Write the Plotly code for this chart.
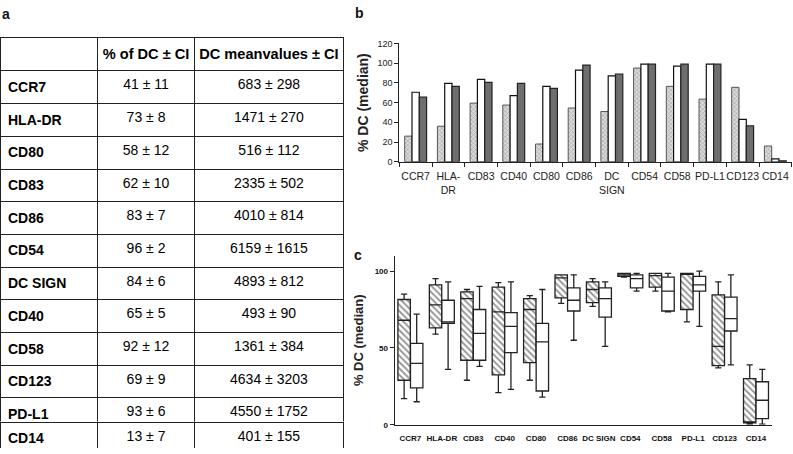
import plotly.graph_objects as go

W, H = 793, 454
FONT = "Liberation Sans, Arial, Helvetica, sans-serif"
NB = "\u00a0"

# ---------------- panel a: table data ----------------
table_markers = ["CCR7", "HLA-DR", "CD80", "CD83", "CD86", "CD54", "DC SIGN",
                 "CD40", "CD58", "CD123", "PD-L1", "CD14"]
pct_mean = [41, 73, 58, 62, 83, 96, 84, 65, 92, 69, 93, 13]
pct_ci = [11, 8, 12, 10, 7, 2, 6, 5, 12, 9, 6, 7]
mfi_mean = [683, 1471, 516, 2335, 4010, 6159, 4893, 493, 1361, 4634, 4550, 401]
mfi_ci = [298, 270, 112, 502, 814, 1615, 812, 90, 384, 3203, 1752, 155]
header_labels = ["", "% of DC \u00b1 CI", "DC meanvalues \u00b1 CI"]

# ---------------- panel b: bar data ----------------
b_categories = ["CCR7", "HLA-<br>DR", "CD83", "CD40", "CD80", "CD86", "DC<br>SIGN",
                "CD54", "CD58", "PD-L1", "CD123", "CD14"]
b_hatched = [26, 36, 59.5, 57.5, 18, 54.5, 51, 95, 76.5, 63.5, 75.5, 16]
b_white = [70.5, 79.5, 83.5, 67, 76.5, 93, 87, 99, 97, 99, 43, 3]
b_gray = [65.5, 76.5, 80.5, 79.5, 74.5, 98, 89, 99, 99, 99, 36.5, 1]
b_yticks = [0, 20, 40, 60, 80, 100, 120]

# ---------------- panel c: box data ----------------
c_categories = ["CCR7", "HLA-DR", "CD83", "CD40", "CD80", "CD86", "DC SIGN",
                "CD54", "CD58", "PD-L1", "CD123", "CD14"]
h_lo = [17, 59, 29, 21, 29, 79, 77, 96, 87, 67, 37, 0.4]
h_q1 = [29, 63, 42, 32.5, 40.5, 82.5, 79.5, 96.5, 89.5, 75, 38.5, 1.3]
h_med = [68, 78, 82, 73.5, 75, 95.5, 88, 97.5, 97, 98.5, 51, 1.5]
h_q3 = [81.5, 91, 86.5, 89.5, 82, 97.5, 93, 98.5, 98.5, 98.5, 84.5, 30]
h_hi = [85, 95, 88, 92.5, 84, 97.5, 95, 98.5, 98.5, 98.5, 93, 39]

w_lo = [15, 36, 38, 23, 18, 55, 51, 87, 73.5, 64, 39, 0.4]
w_q1 = [24, 66, 42, 47, 22, 74, 70, 89, 74, 87, 61, 4]
w_med = [40, 67, 59.5, 64, 54, 81, 82, 95, 87, 91, 69, 16]
w_q3 = [53, 81, 75, 73, 66, 89, 89, 97.5, 96, 96.5, 83, 28]
w_hi = [72, 93, 90, 93, 88, 97.5, 93, 98.5, 98.5, 100, 97.5, 36]
c_yticks = [0, 50, 100]


def px_x(a, b):
    return [a / W, b / W]


def px_y(top, bottom):
    return [(H - bottom) / H, (H - top) / H]


def nb(s):
    return s.replace(" ", NB)


col_marker = ["<b>%s</b>" % nb(m) for m in table_markers]
col_pct = [nb("%d \u00b1 %d" % (m, c)) for m, c in zip(pct_mean, pct_ci)]
col_mfi = [nb("%d \u00b1 %d" % (m, c)) for m, c in zip(mfi_mean, mfi_ci)]

TABLE_X = px_x(0, 343.5)
COLW = [97.3, 97.7, 148.3]
HEAD_H = 33.4
ROW_H = 32.7
TOP = 33.3
split = len(table_markers) - 1
main_bottom = TOP + HEAD_H + ROW_H * split

fig = go.Figure()

# ---------- table (main part) ----------
fig.add_trace(go.Table(
    domain=dict(x=TABLE_X, y=px_y(TOP, main_bottom + 0.5)),
    columnwidth=COLW,
    header=dict(
        values=["<b>%s</b>" % nb(h) if h else "" for h in header_labels],
        align=["left", "center", "center"],
        font=dict(family=FONT, size=14.6, color="black"),
        fill_color="white",
        line=dict(color="#222", width=1),
        height=HEAD_H,
    ),
    cells=dict(
        values=[col_marker[:split], col_pct[:split], col_mfi[:split]],
        align=["left", "center", "center"],
        font=dict(family=FONT, size=14, color="black"),
        fill_color="white",
        line=dict(color="#222", width=1),
        height=ROW_H,
    ),
))
# ---------- table (last, cropped row) ----------
fig.add_trace(go.Table(
    domain=dict(x=TABLE_X, y=px_y(main_bottom, 453.6)),
    columnwidth=COLW,
    header=dict(
        values=[col_marker[split], col_pct[split], col_mfi[split]],
        align=["left", "center", "center"],
        font=dict(family=FONT, size=14, color="black"),
        fill_color="white",
        line=dict(color="#222", width=1),
        height=453.6 - main_bottom,
    ),
    cells=dict(values=[[], [], []], height=1,
               line=dict(color="rgba(0,0,0,0)", width=0),
               fill_color="rgba(0,0,0,0)"),
))

# ---------- panel b bars ----------
fig.add_trace(go.Bar(
    x=b_categories, y=b_hatched, xaxis="x", yaxis="y",
    marker=dict(color="#d0d0d0", line=dict(color="#555", width=1),
                pattern=dict(shape="x", fgcolor="#5e5e5e", bgcolor="#dcdcdc",
                             size=3, solidity=0.35)),
    showlegend=False,
))
fig.add_trace(go.Bar(
    x=b_categories, y=b_white, xaxis="x", yaxis="y",
    marker=dict(color="white", line=dict(color="#111", width=1.2)),
    showlegend=False,
))
fig.add_trace(go.Bar(
    x=b_categories, y=b_gray, xaxis="x", yaxis="y",
    marker=dict(color="#6e6e6e", line=dict(color="#222", width=1.2)),
    showlegend=False,
))

# ---------- panel c boxes ----------
n = len(c_categories)
pos_h = [i - 0.2 for i in range(n)]
pos_w = [i + 0.2 for i in range(n)]
BOXW = 0.395

# hatched fill under the hatched boxes
fig.add_trace(go.Bar(
    x=pos_h, y=[q3 - q1 for q1, q3 in zip(h_q1, h_q3)], base=h_q1,
    width=BOXW, offset=-BOXW / 2, xaxis="x2", yaxis="y2",
    marker=dict(color="white", line=dict(width=0),
                pattern=dict(shape="\\", fgcolor="#2a2a2a", bgcolor="white",
                             size=4.5, solidity=0.4)),
    showlegend=False, hoverinfo="skip",
))
fig.add_trace(go.Box(
    x=pos_h, q1=h_q1, median=h_med, q3=h_q3, lowerfence=h_lo, upperfence=h_hi,
    width=BOXW, whiskerwidth=0.5, xaxis="x2", yaxis="y2",
    fillcolor="rgba(0,0,0,0)", line=dict(color="#222", width=1.3),
    showlegend=False,
))
fig.add_trace(go.Box(
    x=pos_w, q1=w_q1, median=w_med, q3=w_q3, lowerfence=w_lo, upperfence=w_hi,
    width=BOXW, whiskerwidth=0.5, xaxis="x2", yaxis="y2",
    fillcolor="white", line=dict(color="#222", width=1.3),
    showlegend=False,
))

fig.update_layout(
    width=W, height=H,
    margin=dict(l=0, r=0, t=0, b=0),
    paper_bgcolor="white", plot_bgcolor="white",
    font=dict(family=FONT, color="#222"),
    barmode="group", bargap=0.33, bargroupgap=0,
    boxmode="overlay",
    xaxis=dict(
        domain=px_x(399.3, 791.7), anchor="y",
        type="category", showline=True, linecolor="#222", linewidth=1,
        ticks="outside", tickson="boundaries", ticklen=4, tickcolor="#222",
        tickangle=0, ticklabelstandoff=5,
        tickfont=dict(size=10.5, color="#222"), showgrid=False, zeroline=False,
        fixedrange=True,
    ),
    yaxis=dict(
        domain=px_y(39.3, 160.3), anchor="x",
        range=[0, 120], tickvals=b_yticks, showline=True, linecolor="#222",
        linewidth=1, ticks="outside", ticklen=4, tickcolor="#222",
        tickfont=dict(size=9, color="#222"), showgrid=False, zeroline=False,
        title=dict(text="<b>% DC (median)</b>", font=dict(size=14, color="#222"),
                   standoff=5),
    ),
    xaxis2=dict(
        domain=px_x(394.7, 771.7), anchor="y2",
        range=[-0.5, n - 0.5], tickvals=list(range(n)),
        ticktext=["<b>%s</b>" % c for c in c_categories],
        showline=True, linecolor="#222", linewidth=1.2, ticks="",
        tickangle=0, ticklabelstandoff=5,
        tickfont=dict(size=8, color="#111"), showgrid=False, zeroline=False,
    ),
    yaxis2=dict(
        domain=px_y(256.3, 429.3), anchor="x2",
        range=[0, 110], tickvals=c_yticks,
        ticktext=["<b>%d</b>" % v for v in c_yticks],
        showline=True, linecolor="#222", linewidth=1.2, ticks="outside",
        ticklen=4, tickcolor="#222",
        tickfont=dict(size=8, color="#111"), showgrid=False, zeroline=False,
        title=dict(text="<b>% DC (median)</b>", font=dict(size=13, color="#222"),
                   standoff=8),
    ),
    annotations=[
        dict(text="<b>a</b>", x=5.5 / W, y=1 - 9 / H, xref="paper", yref="paper",
             xanchor="center", yanchor="middle",
             showarrow=False, font=dict(size=14, color="#111")),
        dict(text="<b>b</b>", x=359 / W, y=1 - 8 / H, xref="paper", yref="paper",
             xanchor="center", yanchor="middle",
             showarrow=False, font=dict(size=14, color="#111")),
        dict(text="<b>c</b>", x=358 / W, y=1 - 256 / H, xref="paper", yref="paper",
             xanchor="center", yanchor="middle",
             showarrow=False, font=dict(size=14, color="#111")),
    ],
)

fig.write_html(
    "out.html",
    config={"displayModeBar": False},
    post_script="document.body.style.margin='0';document.body.style.overflow='hidden';",
)
